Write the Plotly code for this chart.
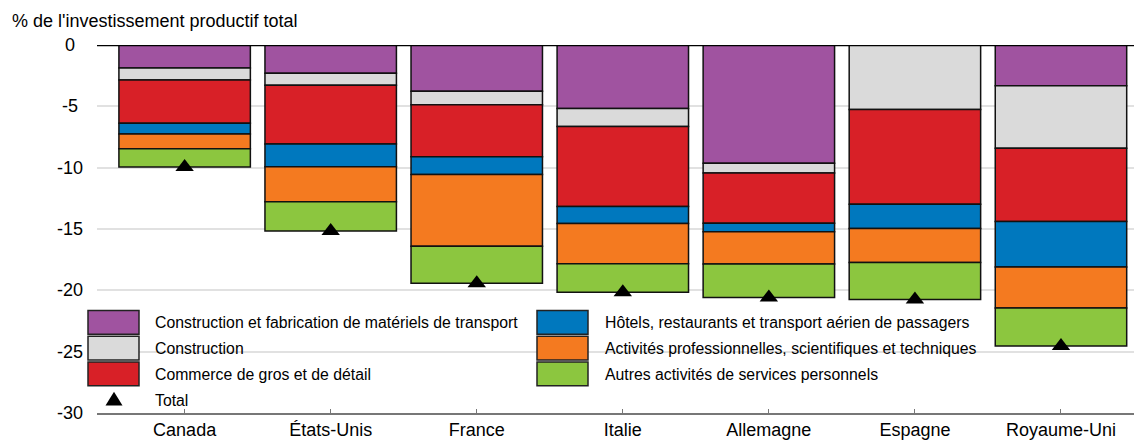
import plotly.graph_objects as go

# Sectors contributing to the decline, in percentage points of total productive investment
countries = ["Canada", "États-Unis", "France", "Italie", "Allemagne", "Espagne", "Royaume-Uni"]
transport_mfg = [-1.88, -2.31, -3.77, -5.17, -9.63, 0.0, -3.33]
construction = [-0.97, -0.97, -1.10, -1.47, -0.81, -5.25, -5.09]
commerce = [-3.53, -4.79, -4.23, -6.52, -4.09, -7.74, -5.97]
hotels = [-0.88, -1.86, -1.45, -1.39, -0.70, -1.97, -3.71]
pro_services = [-1.19, -2.85, -5.86, -3.29, -2.63, -2.77, -3.34]
personal_services = [-1.50, -2.39, -3.02, -2.31, -2.72, -3.01, -3.10]
totals = [-9.95, -15.17, -19.43, -20.15, -20.58, -20.74, -24.54]
y_ticks = [0, -5, -10, -15, -20, -25, -30]

sector_names = [
    "Construction et fabrication de matériels de transport",
    "Construction",
    "Commerce de gros et de détail",
    "Hôtels, restaurants et transport aérien de passagers",
    "Activités professionnelles, scientifiques et techniques",
    "Autres activités de services personnels",
]
sector_values = [transport_mfg, construction, commerce, hotels, pro_services, personal_services]
sector_colors = ["#A053A0", "#DADADA", "#D82027", "#0078BE", "#F47A20", "#8CC63F"]

FONT = "Liberation Sans, Arial, sans-serif"
W, H = 1134, 440
L, R, T, B = 97, 0, 45, 23


def px(x):
    return (x - L) / (W - L - R)


def py(y):
    return (H - B - y) / (H - T - B)


fig = go.Figure()
for name, vals, col in zip(sector_names, sector_values, sector_colors):
    fig.add_trace(go.Bar(
        x=countries, y=vals, name=name,
        marker=dict(color=col, line=dict(color="#111111", width=1.5)),
        showlegend=False,
    ))

fig.add_trace(go.Scatter(
    x=countries, y=totals, mode="markers", name="Total",
    marker=dict(symbol="triangle-up", size=16, color="black"),
    showlegend=False, cliponaxis=False,
))

shapes = []
annotations = []

# zero line on top of the bars
shapes.append(dict(type="line", xref="paper", yref="y", x0=0, x1=1, y0=0, y1=0,
                   line=dict(color="black", width=2.5), layer="above"))

# y tick labels, centred in the left margin
for v in y_ticks:
    annotations.append(dict(text=str(v), xref="paper", yref="y", x=px(70), y=v,
                            xanchor="center", yanchor="middle", showarrow=False,
                            font=dict(family=FONT, size=18, color="black")))

# hand-laid legend: two columns of large swatches
col_x = [(88, 139, 153), (537, 588, 603)]
row_top = [313.5, 339.5, 365.5]
for i, (name, col) in enumerate(zip(sector_names, sector_colors)):
    c = i // 3
    r = i % 3
    x0, x1, tx = col_x[c]
    y0 = row_top[r]
    y1 = y0 + 24
    shapes.append(dict(type="rect", xref="paper", yref="paper",
                       x0=px(x0), x1=px(x1), y0=py(y1), y1=py(y0),
                       fillcolor=col, line=dict(color="#222222", width=1.5), layer="above"))
    annotations.append(dict(text=name, xref="paper", yref="paper",
                            x=px(tx), y=py(y0 + 12.5), xanchor="left", yanchor="middle",
                            showarrow=False, font=dict(family=FONT, size=15.8, color="black")))

# legend entry for the total marker
tri_cx, tri_top, tri_bot, tri_hw = 114, 395.5, 409.5, 8.5
shapes.append(dict(type="path", xref="paper", yref="paper",
                   path=(f"M {px(tri_cx - tri_hw)},{py(tri_bot)} L {px(tri_cx + tri_hw)},{py(tri_bot)} "
                         f"L {px(tri_cx)},{py(tri_top)} Z"),
                   fillcolor="black", line=dict(color="black", width=0), layer="above"))
annotations.append(dict(text="Total", xref="paper", yref="paper",
                        x=px(153), y=py(404), xanchor="left", yanchor="middle",
                        showarrow=False, font=dict(family=FONT, size=15.8, color="black")))

# axis unit label
annotations.append(dict(text="% de l'investissement productif total", xref="paper", yref="paper",
                        x=px(10), y=py(20.5), xanchor="left", yanchor="middle",
                        showarrow=False, font=dict(family=FONT, size=18, color="black")))

fig.update_layout(
    width=W, height=H,
    margin=dict(l=L, r=R, t=T, b=B, pad=0),
    barmode="relative", bargap=0.1,
    plot_bgcolor="white", paper_bgcolor="white",
    font=dict(family=FONT, size=18, color="black"),
    shapes=shapes, annotations=annotations,
    showlegend=False,
)
fig.update_xaxes(
    range=[-0.6, 6.5], showgrid=False, zeroline=False,
    showline=True, linecolor="#777777", linewidth=1.5,
    ticks="inside", ticklen=4, tickcolor="#777777", tickwidth=1,
    tickfont=dict(family=FONT, size=18, color="black"),
)
fig.update_yaxes(
    range=[-30, 0], tickvals=y_ticks,
    showgrid=True, gridcolor="#E1E1E1", gridwidth=1.5,
    zeroline=False, showline=False, ticks="", showticklabels=False,
)

fig.write_html("out.html")
